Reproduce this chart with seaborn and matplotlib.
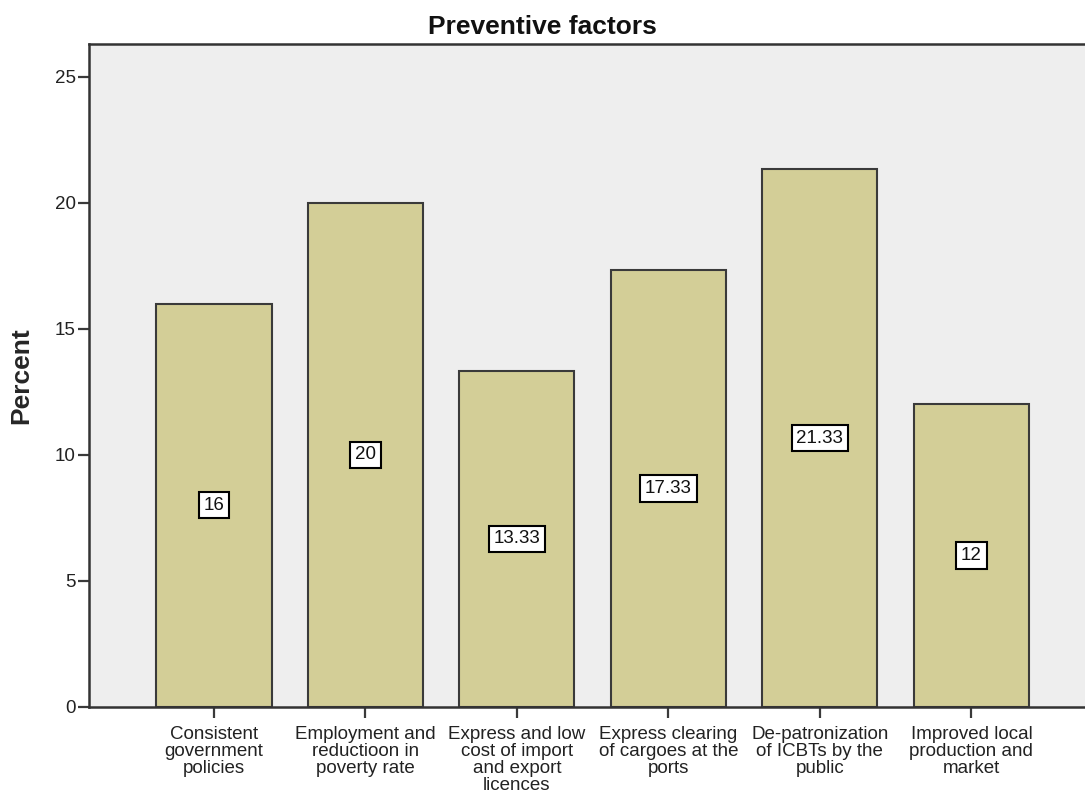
import pandas as pd
import matplotlib.pyplot as plt
import seaborn as sns

# data
categories = [
    "Consistent\ngovernment\npolicies",
    "Employment and\nreductioon in\npoverty rate",
    "Express and low\ncost of import\nand export\nlicences",
    "Express clearing\nof cargoes at the\nports",
    "De-patronization\nof ICBTs by the\npublic",
    "Improved local\nproduction and\nmarket",
]
percents = [16, 20, 13.33, 17.33, 21.33, 12]
bar_labels = ["16", "20", "13.33", "17.33", "21.33", "12"]

df = pd.DataFrame({"factor": categories, "percent": percents})

sns.set_style("white")
plt.rcParams['font.family'] = ['Liberation Sans', 'DejaVu Sans']

fig = plt.figure(figsize=(10.85, 7.96), dpi=100)
ax = fig.add_axes([0.082, 0.112, 0.918, 0.8325])
ax.set_facecolor("#EEEEEE")

sns.barplot(data=df, x="factor", y="percent", color="#D3CE97", saturation=1,
            width=0.76, edgecolor="#3A3A3A", linewidth=1.5, ax=ax)

# value boxes in the middle of each bar
for i, (v, lab) in enumerate(zip(percents, bar_labels)):
    ax.text(i, v / 2, lab, ha="center", va="center", fontsize=13.5, color="#111111",
            bbox=dict(boxstyle="square,pad=0.25", facecolor="white",
                      edgecolor="black", linewidth=1.5))

ax.set_xlim(-0.825, 5.75)
ax.set_ylim(0, 26.3)
ax.set_yticks([0, 5, 10, 15, 20, 25])
ax.tick_params(axis="both", direction="out", length=8, width=1.6, color="#3A3A3A",
               labelsize=13.5, labelcolor="#222222", bottom=True, left=True)
ax.tick_params(axis="y", pad=1.5)
ax.tick_params(axis="x", pad=6)

for side in ["left", "bottom", "top"]:
    ax.spines[side].set_color("#333333")
    ax.spines[side].set_linewidth(1.8)
ax.spines["right"].set_visible(False)

ax.set_xlabel("")
ax.set_ylabel("Percent", fontsize=19, fontweight="bold")
ax.yaxis.set_label_coords(-0.056, 0.5)
for t in ax.get_xticklabels():
    t.set_linespacing(1.0)

fig.text(0.5, 0.957, "Preventive factors", ha="center", va="baseline",
         fontsize=19, fontweight="bold", color="#111111")

plt.savefig("out.png", dpi=100)
